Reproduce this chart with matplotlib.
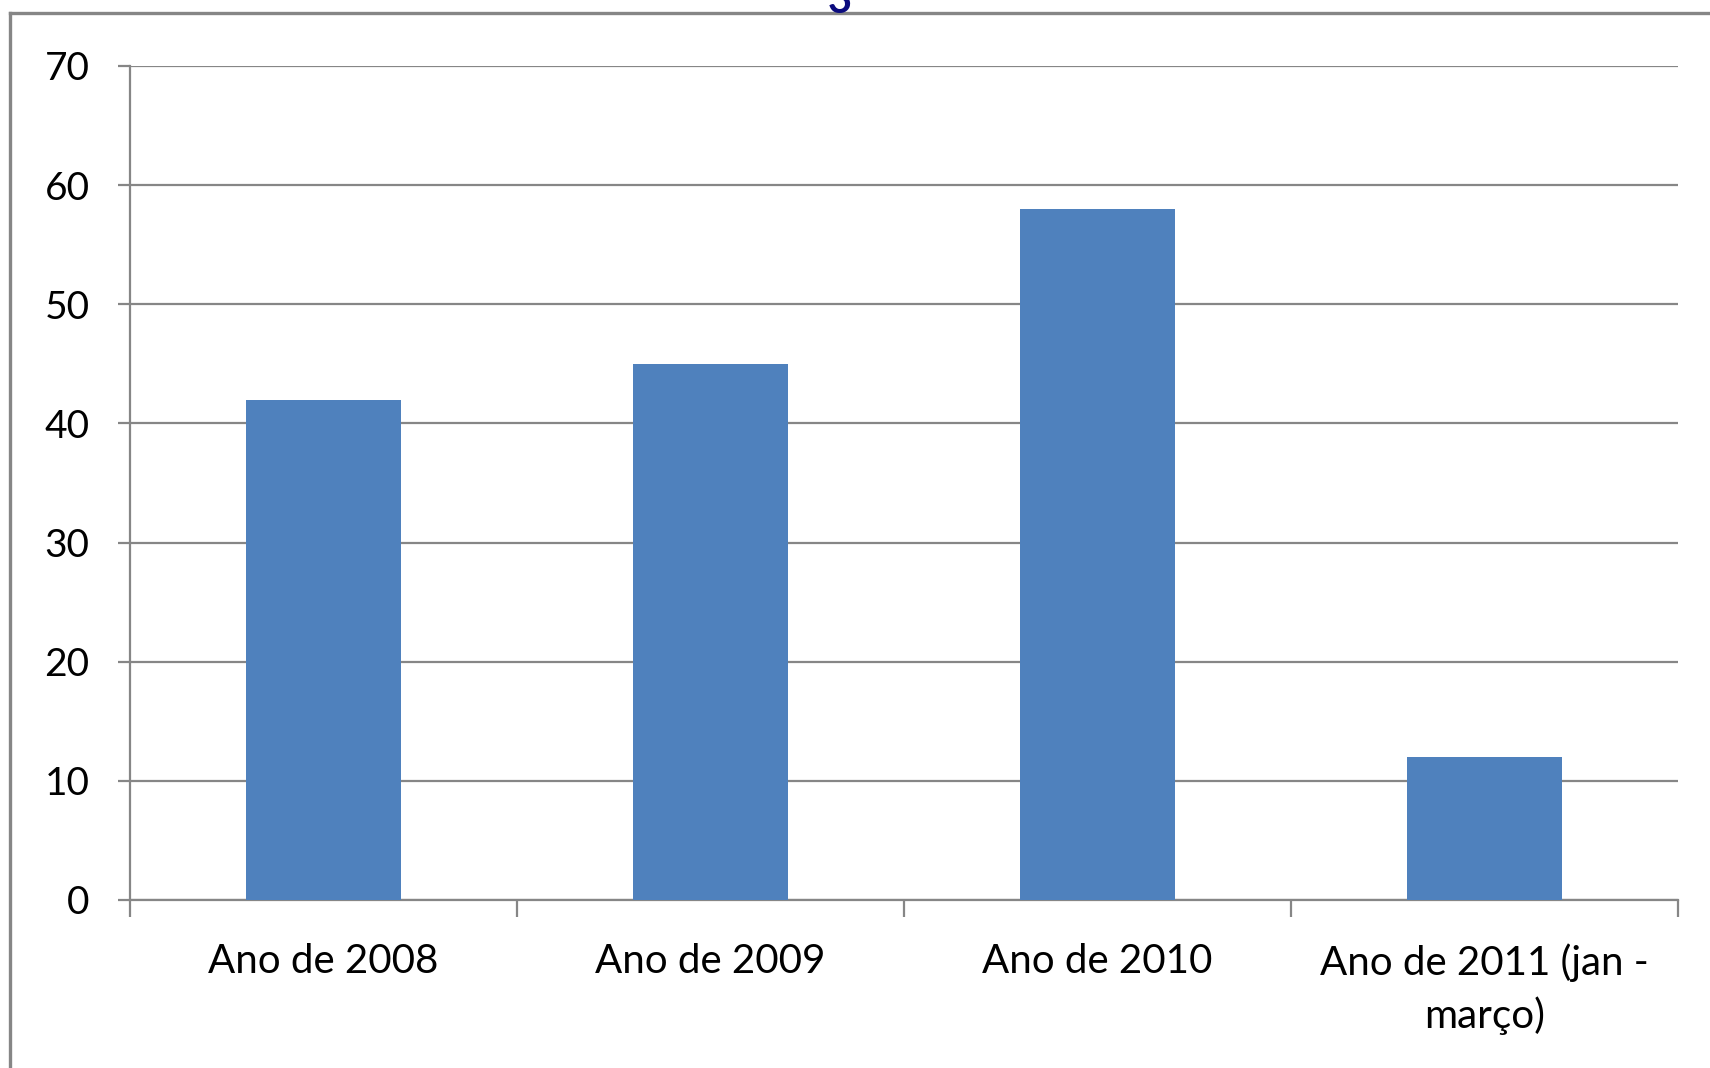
import matplotlib.pyplot as plt
from matplotlib.lines import Line2D

# values
categories = ['Ano de 2008', 'Ano de 2009', 'Ano de 2010', 'Ano de 2011 (jan -\nmarço)']
values = [42, 45, 58, 12]
y_ticks = [0, 10, 20, 30, 40, 50, 60, 70]

plt.rcParams['font.family'] = ['Lato', 'DejaVu Sans']

grey = '#868686'
fig = plt.figure(figsize=(17.1, 10.68), dpi=100)
ax = fig.add_axes([130 / 1710, 1 - 900 / 1068, (1678 - 130) / 1710, (900 - 66) / 1068])

x = list(range(len(categories)))
ax.bar(x, values, width=0.4, color='#4F81BD', zorder=3)

ax.set_xlim(-0.5, len(categories) - 0.5)
ax.set_ylim(0, 70)
ax.set_yticks(y_ticks)
ax.set_yticklabels([str(v) for v in y_ticks])
ax.yaxis.grid(True, color=grey, linewidth=1.6, zorder=0)
ax.set_axisbelow(True)

# category boundaries as x ticks, labels centred in between
ax.set_xticks([i - 0.5 for i in range(len(categories) + 1)])
ax.set_xticklabels([])
ax.set_xticks(x, minor=True)
ax.set_xticklabels(categories, minor=True, fontsize=29, linespacing=1.45)
ax.tick_params(axis='x', which='minor', length=0, pad=31)
ax.tick_params(axis='x', which='major', length=12, width=1.6, color=grey)
ax.tick_params(axis='y', length=9, width=1.6, color=grey, labelsize=28, pad=20)

for side in ['top', 'right']:
    ax.spines[side].set_visible(False)
for side in ['left', 'bottom']:
    ax.spines[side].set_color(grey)
    ax.spines[side].set_linewidth(1.6)

# outer chart frame (only top and left visible in the crop)
fig.add_artist(Line2D([10 / 1710, 1], [1 - 13 / 1068] * 2, color=grey, linewidth=2.4,
                      transform=fig.transFigure))
fig.add_artist(Line2D([10 / 1710] * 2, [0, 1 - 13 / 1068], color=grey, linewidth=2.4,
                      transform=fig.transFigure))

# cut-off title fragment (the reference shows only its lower part)
fig.text(840 / 1710, 1 - 13 / 1068, '3', color='#0B0B7E', fontsize=30, fontweight='bold',
         ha='center', va='baseline')

fig.savefig('out.png', dpi=100, facecolor='white')
